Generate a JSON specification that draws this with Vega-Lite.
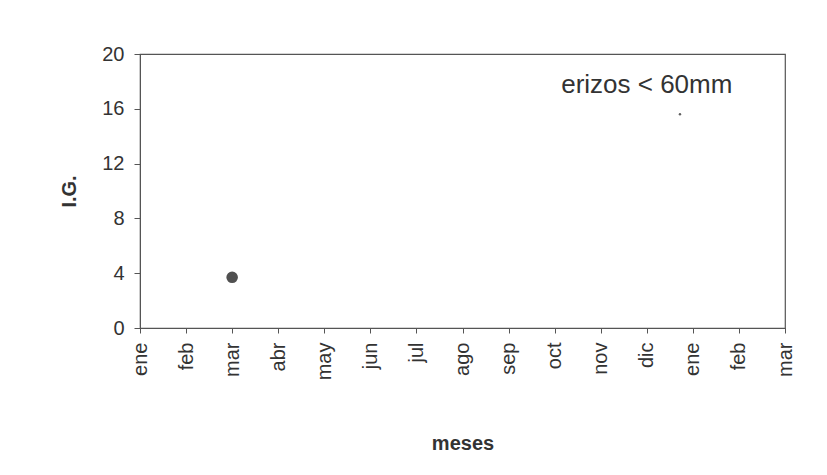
{
  "$schema": "https://vega.github.io/schema/vega-lite/v6.json",
  "width": 645,
  "height": 274,
  "autosize": {"type": "none"},
  "padding": {"left": 140, "top": 54, "right": 42, "bottom": 147},
  "background": "white",
  "config": {
    "font": "Liberation Sans",
    "view": {"stroke": "#555555", "strokeWidth": 1.2},
    "axis": {"grid": false, "domainColor": "#555555", "tickColor": "#555555", "labelColor": "#333333", "titleColor": "#333333", "labelFont": "Liberation Sans", "titleFont": "Liberation Sans"}
  },
  "datasets": {
    "puntos": [
      {"mes": 2, "IG": 3.7}
    ],
    "marca": [
      {"mes": 11.72, "IG": 15.6}
    ],
    "etiqueta": [
      {"mes": 11, "IG": 17.15, "texto": "erizos < 60mm"}
    ]
  },
  "layer": [
    {
      "data": {"name": "puntos"},
      "mark": {"type": "circle", "size": 135, "color": "#505050", "opacity": 1},
      "encoding": {
        "x": {
          "field": "mes", "type": "quantitative",
          "scale": {"domain": [0, 14], "nice": false, "zero": false},
          "axis": {
            "title": "meses", "titleFontSize": 20, "titleFontWeight": "bold", "titlePadding": 54,
            "values": [0,1,2,3,4,5,6,7,8,9,10,11,12,13,14],
            "labelExpr": "['ene','feb','mar','abr','may','jun','jul','ago','sep','oct','nov','dic','ene','feb','mar'][datum.value]",
            "labelAngle": 270, "labelFontSize": 20, "labelPadding": 9, "tickSize": 5,
            "labelOverlap": false, "labelFlush": false, "labelBound": false
          }
        },
        "y": {
          "field": "IG", "type": "quantitative",
          "scale": {"domain": [0, 20], "nice": false},
          "axis": {
            "title": "I.G.", "titleFontSize": 20, "titleFontWeight": "bold", "titlePadding": 22,
            "values": [0, 4, 8, 12, 16, 20],
            "labelFontSize": 20, "labelPadding": 10, "tickSize": 6,
            "labelOverlap": false, "labelFlush": false
          }
        }
      }
    },
    {
      "data": {"name": "marca"},
      "mark": {"type": "circle", "size": 6, "color": "#606060", "opacity": 1},
      "encoding": {
        "x": {"field": "mes", "type": "quantitative"},
        "y": {"field": "IG", "type": "quantitative"}
      }
    },
    {
      "data": {"name": "etiqueta"},
      "mark": {"type": "text", "fontSize": 26, "color": "#333333", "align": "center", "baseline": "alphabetic", "font": "Liberation Sans"},
      "encoding": {
        "x": {"field": "mes", "type": "quantitative"},
        "y": {"field": "IG", "type": "quantitative"},
        "text": {"field": "texto"}
      }
    }
  ]
}
